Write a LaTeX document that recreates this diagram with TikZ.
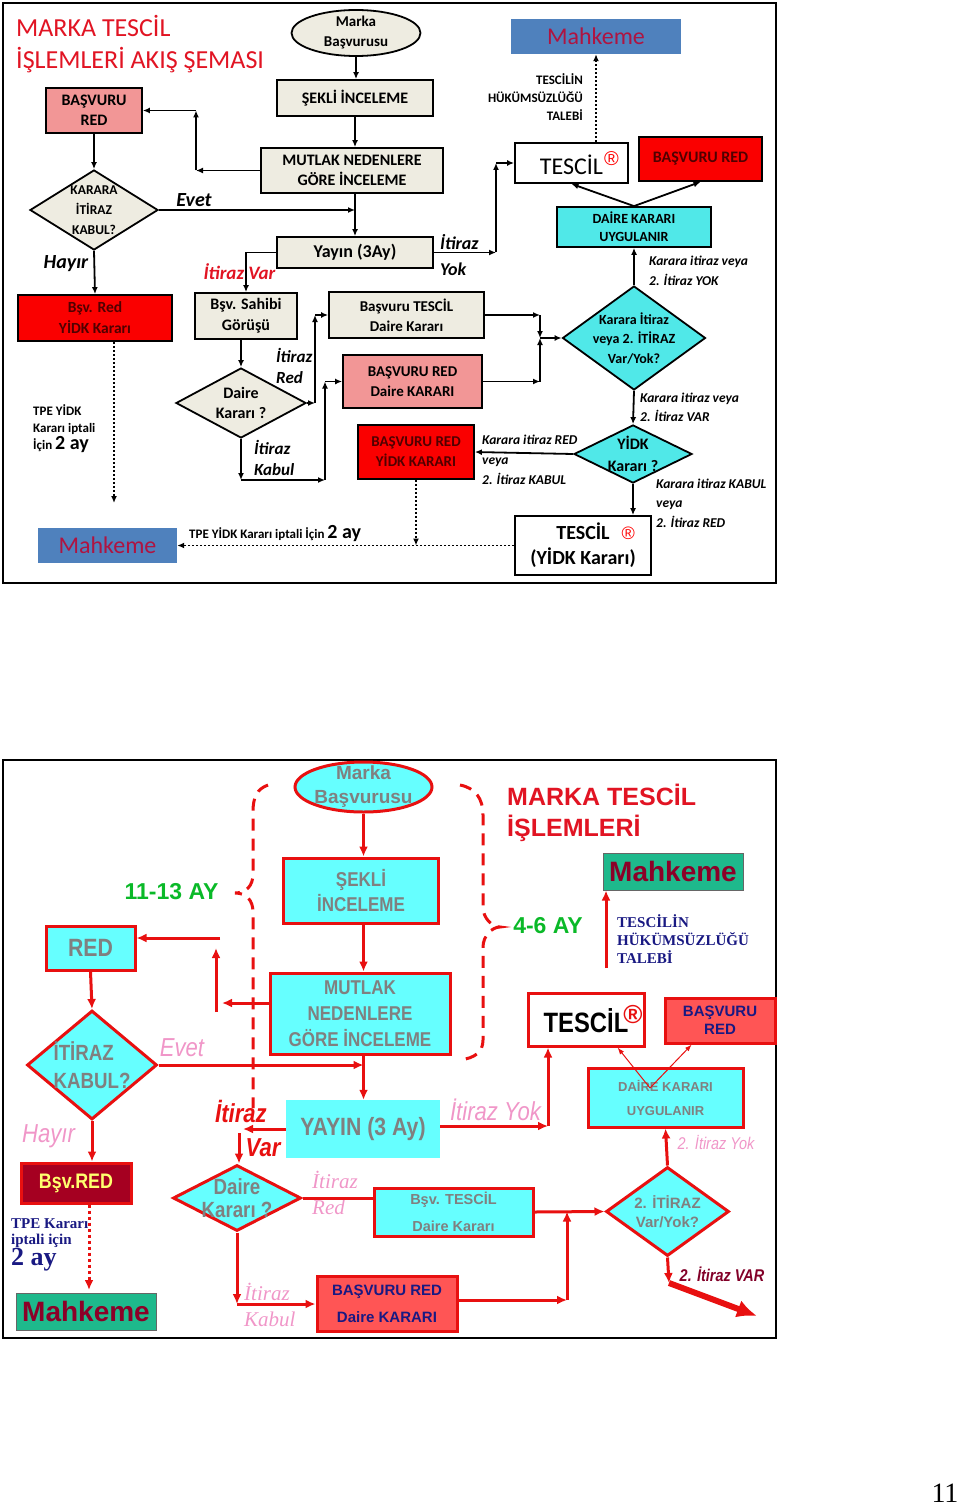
\documentclass[tikz,border=0pt]{standalone}
\usepackage{fontspec}
\setmainfont{Carlito}
\newfontfamily\arialf{Liberation Sans}
\newfontfamily\narrowf[FakeStretch=0.85]{Liberation Sans}
\newfontfamily\timesf{Liberation Serif}
\usetikzlibrary{shapes.geometric,arrows.meta,calc}

\definecolor{beige}{RGB}{238,236,225}
\definecolor{pinkbox}{RGB}{242,150,150}
\definecolor{redbox}{RGB}{250,0,0}
\definecolor{redboxtext}{RGB}{80,0,0}
\definecolor{titlered}{RGB}{225,20,35}
\definecolor{mahblue}{RGB}{79,129,189}
\definecolor{mahtext}{RGB}{175,20,65}
\definecolor{cyantop}{RGB}{80,232,232}
\definecolor{cyanbot}{RGB}{102,255,255}
\definecolor{redline}{RGB}{232,16,16}
\definecolor{graytext}{RGB}{128,128,128}
\definecolor{pinktext}{RGB}{240,150,200}
\definecolor{greentext}{RGB}{10,185,40}
\definecolor{navytext}{RGB}{25,25,130}
\definecolor{mahgreen}{RGB}{30,185,140}
\definecolor{maroontext}{RGB}{140,0,40}
\definecolor{bsvdark}{RGB}{165,0,33}
\definecolor{yellowtext}{RGB}{255,255,110}
\definecolor{salmon}{RGB}{255,85,85}
\definecolor{wine}{RGB}{130,0,40}

\newcommand\fsz[2]{\fontsize{#1}{#2}\selectfont}

\tikzset{
  every node/.style={inner sep=0pt,align=center},
  sz/.style 2 args={minimum width=#1pt,minimum height=#2pt},
  % top chart
  tbox/.style={draw=black,line width=1.8pt,fill=beige,font=\bfseries},
  tredbox/.style={tbox,fill=redbox,text=redboxtext},
  tell/.style={ellipse,draw=black,line width=1.8pt,fill=beige},
  tdia/.style={diamond,draw=black,line width=1.8pt,fill=beige},
  tmah/.style={fill=mahblue,text=mahtext,font=\fsz{24}{24}},
  tarr/.style={draw=black,line width=1.8pt,-{Latex[length=7pt,width=6pt]}},
  tdot/.style={tarr,dash pattern=on 2pt off 2pt},
  tlab/.style={font=\bfseries\itshape},
  % bottom chart
  bbox/.style={draw=redline,line width=3pt,fill=cyanbot,text=graytext},
  bell/.style={ellipse,draw=redline,line width=3pt,fill=cyanbot},
  bdia/.style={diamond,draw=redline,line width=3pt,fill=cyanbot},
  bmah/.style={draw=black!60,line width=1pt,fill=mahgreen,text=maroontext,font=\arialf\bfseries\fsz{28}{28}},
  barr/.style={draw=redline,line width=3pt,-{Latex[length=10pt,width=9pt]}},
  bline/.style={draw=redline,line width=3pt},
  bthin/.style={draw=redline,line width=1pt,-{Latex[length=7pt,width=5pt]}},
  bthick/.style={draw=redline,line width=6pt,-{Latex[length=20pt,width=18pt]}},
  bdot/.style={barr,dash pattern=on 3pt off 3pt},
  bdash/.style={draw=redline,line width=3pt,dash pattern=on 12pt off 8pt},
  blab/.style={text=pinktext,font=\narrowf\itshape\fsz{26}{26}},
}

\begin{document}
\begin{tikzpicture}[x=1pt,y=-1pt]
\useasboundingbox (0,0) rectangle (960,1506);

% ---------------- top chart ----------------
\draw[line width=2pt] (3,3) rectangle (776,583);

\node[anchor=west,align=left,text=titlered,font=\fsz{26}{32}] (title) at (16,44) {MARKA TESCİL\\İŞLEMLERİ AKIŞ ŞEMASI};

\node[tell,sz={129}{46},label={[font=\bfseries\fsz{15}{20}]center:{Marka\\Başvurusu}}] (marka) at (356,33) {};
\node[tbox,sz={156}{36},font=\bfseries\fsz{16}{20}] (sekli) at (355,98) {ŞEKLİ İNCELEME};
\node[tbox,sz={182}{45},font=\bfseries\fsz{16}{20}] (mutlak) at (352,170.5) {MUTLAK NEDENLERE\\GÖRE İNCELEME};
\node[tbox,sz={156}{31},font=\bfseries\fsz{18}{20}] (yayin) at (355,252.5) {Yayın (3Ay)};
\node[tbox,fill=pinkbox,sz={96}{45},font=\bfseries\fsz{16}{20}] (basred) at (94,110.5) {BAŞVURU\\RED};
\node[tdia,sz={128}{80},label={[font=\bfseries\fsz{13.5}{20}]center:{KARARA\\İTİRAZ\\KABUL?}}] (kabul) at (94,210) {};
\node[tredbox,sz={154}{46},font=\bfseries\fsz{15.5}{21}] (bsvred) at (95,318) {Bşv. Red\\YİDK Kararı};
\node[tmah,sz={139}{35}] (mahk1) at (107.5,545.5) {Mahkeme};
\node[tbox,sz={102}{46},font=\bfseries\fsz{16}{21}] (sahibi) at (246,316) {Bşv. Sahibi\\Görüşü};
\node[tdia,sz={130}{70},label={[font=\bfseries\fsz{16}{20}]center:{Daire\\Kararı ?}}] (daire) at (241,403) {};
\node[tbox,sz={155}{46},font=\bfseries\fsz{15}{20}] (tescilda) at (406.5,315) {Başvuru TESCİL\\Daire Kararı};
\node[tbox,fill=pinkbox,sz={139}{53},font=\bfseries\fsz{15}{20}] (redda) at (412.5,381.5) {BAŞVURU RED\\Daire KARARI};
\node[tredbox,sz={116}{54},font=\bfseries\fsz{15}{20}] (redyidk) at (416,452) {BAŞVURU RED\\YİDK KARARI};
\node[tdia,fill=cyantop,sz={143}{104},label={[font=\bfseries\fsz{14}{19.5}]center:{Karara İtiraz\\veya 2. İTİRAZ\\Var/Yok?}}] (itdia) at (634,338) {};
\node[tbox,fill=cyantop,sz={154}{40},font=\bfseries\fsz{14}{18}] (daireuyg) at (634,227) {DAİRE KARARI\\UYGULANIR};
\node[tbox,fill=white,sz={113}{40},font=\mdseries\fsz{24}{24}] (tescil) at (571.5,163) {TESCİL\rlap{\hspace{1pt}\raisebox{9pt}{\color{red}\arialf\fsz{20}{20}®}}};
\node[tredbox,sz={123}{44},font=\bfseries\fsz{16}{20}] (basredtop) at (700.5,159) {BAŞVURU RED};
\node[tmah,sz={170}{35}] (mahk2) at (596,36.5) {Mahkeme};
\node[anchor=east,align=right,font=\bfseries\fsz{13}{18}] (hukum) at (583,97) {TESCİLİN\\HÜKÜMSÜZLÜĞÜ\\TALEBİ};
\node[tdia,fill=cyantop,sz={118}{58},label={[font=\bfseries\fsz{16}{22}]center:{YİDK\\Kararı ?}}] (yidk) at (633,454) {};
\node[tbox,fill=white,sz={136}{59},font=\bfseries\fsz{20}{25}] (tescilyidk) at (583,545.5) {TESCİL\rlap{\hspace{12pt}{\color{red}\arialf\mdseries\fsz{18}{18}®}}\\(YİDK Kararı)};

% labels
\node[tlab,font=\bfseries\itshape\fsz{20}{20}] (evet) at (194,200) {Evet};
\node[tlab,font=\bfseries\itshape\fsz{20}{20}] (hayir) at (66,264) {Hayır};
\node[tlab,text=titlered,font=\bfseries\itshape\fsz{19}{19}] (itvar) at (239.5,272) {İtiraz Var};
\node[tlab,anchor=west,align=left,font=\bfseries\itshape\fsz{18}{26}] (ityok) at (440,255) {İtiraz\\Yok};
\node[tlab,anchor=west,align=left,font=\bfseries\itshape\fsz{17}{21}] (itred) at (276,366) {İtiraz\\Red};
\node[tlab,anchor=west,align=left,font=\bfseries\itshape\fsz{17}{21}] (itkabul) at (254,458) {İtiraz\\Kabul};
\node[anchor=west,align=left,font=\bfseries\fsz{13}{17}] (tpe1) at (33,429) {TPE YİDK\\Kararı iptali\\İçin {\fsz{20}{20}2 ay}};
\node[anchor=west,font=\bfseries\fsz{13}{17}] (tpe2) at (189,534) {TPE YİDK Kararı iptali İçin {\fsz{20}{20}2 ay}};
\node[tlab,anchor=west,align=left,font=\bfseries\itshape\fsz{13.5}{20}] (kyok) at (649,271) {Karara itiraz veya\\2. İtiraz YOK};
\node[tlab,anchor=west,align=left,font=\bfseries\itshape\fsz{13.5}{19}] (kvar) at (640,407.5) {Karara itiraz veya\\2. İtiraz VAR};
\node[tlab,anchor=west,align=left,font=\bfseries\itshape\fsz{13.5}{20}] (kred) at (482,460) {Karara itiraz RED\\veya\\2. İtiraz KABUL};
\node[tlab,anchor=west,align=left,font=\bfseries\itshape\fsz{13.5}{19.5}] (kkabul) at (656,503) {Karara itiraz KABUL\\veya\\2. İtiraz RED};

% connectors
\coordinate (m1) at (196,170.5);
\coordinate (m2) at (196,110.5);
\coordinate (y1) at (496,252.5);
\coordinate (y2) at (496,163);
\coordinate (d1) at (315,403);
\coordinate (d2) at (315,315);
\coordinate (d3) at (241,480);
\coordinate (d4) at (325,480);
\coordinate (d5) at (325,381.5);
\coordinate (j1) at (540,315);
\coordinate (j2) at (540,381.5);
\coordinate (j3) at (540,338);
\coordinate (r2) at (114,503);

\draw[tarr] (marka.south) -- (marka.south |- sekli.north);
\draw[tarr] (sekli.south) -- (sekli.south |- mutlak.north);
\draw[tarr] (yayin.north |- mutlak.south) -- (yayin.north);
\draw[tarr] (mutlak.west) -- (m1);
\draw[tarr] (m1) -- (m2);
\draw[tarr] (m2) -- (basred.east);
\draw[tarr] (basred.south) -- (kabul.north);
\draw[tarr] (kabul.east) -- (kabul.east -| yayin.north);
\draw[tarr] (kabul.south) -- (bsvred.north);
\draw[tarr] (yayin.west) -| (sahibi.north);
\draw[tarr] (yayin.east) -- (y1);
\draw[tarr] (y1) -- (y2);
\draw[tarr] (y2) -- (tescil.west);
\draw[tarr] (daire.north |- sahibi.south) -- (daire.north);
\draw[tarr] (daire.east) -- (d1);
\draw[tarr] (d1) -- (d2);
\draw[tarr] (d2) -- (tescilda.west);
\draw[tarr] (daire.south) -- (d3);
\draw[tarr] (d3) -- (d4);
\draw[tarr] (d4) -- (d5);
\draw[tarr] (d5) -- (redda.west);
\draw[tarr] (tescilda.east) -- (j1);
\draw[tarr] (redda.east) -- (j2);
\draw[tarr] (j1) -- (j3);
\draw[tarr] (j2) -- (j3);
\draw[tarr] (j3) -- (itdia.west);
\draw[tarr] (itdia.north) -- (daireuyg.south);
\draw[tarr] (daireuyg.north) -- (tescil.south);
\draw[tarr] (daireuyg.north) -- (basredtop.south);
\draw[tdot] (tescil.north -| mahk2.south) -- (mahk2.south);
\draw[tarr] (itdia.south) -- (yidk.north);
\draw[tarr] (yidk.west) -- (redyidk.east);
\draw[tarr] (yidk.south) -- (yidk.south |- tescilyidk.north);
\draw[tdot] (tescilyidk.west) -- (mahk1.east);
\draw[tdot] (redyidk.south) -- (redyidk.south |- mahk1.east);
\draw[tdot] (r2 |- bsvred.south) -- (r2);

% ---------------- bottom chart ----------------
\draw[line width=2pt] (3,760) rectangle (776,1338);

\draw[bdash] (268,785) .. controls (257,789) and (253,797) .. (253,812) -- (253,874) .. controls (253,886) and (246,893) .. (235,893) .. controls (246,893) and (253,900) .. (253,912) -- (253,1108);
\draw[bdash] (460,785) .. controls (475,788) and (483,798) .. (483,815) -- (483,907) .. controls (483,918) and (492,927) .. (500,927) .. controls (492,927) and (483,936) .. (483,947) -- (483,1040) .. controls (483,1052) and (475,1058) .. (460,1060);

\node[anchor=west,align=left,text=titlered,font=\arialf\bfseries\fsz{25}{31}] (title2) at (507,813) {MARKA TESCİL\\İŞLEMLERİ};
\node[bell,sz={137}{50},label={[text=graytext,font=\arialf\bfseries\fsz{19}{24}]center:{Marka\\Başvurusu}}] (marka2) at (363.5,787) {};
\node[bbox,sz={155}{65},font=\narrowf\bfseries\fsz{20}{25}] (sekli2) at (361,890.5) {ŞEKLİ\\İNCELEME};
\node[bbox,sz={180}{81},font=\narrowf\bfseries\fsz{20}{26}] (mutlak2) at (360,1013.5) {MUTLAK\\NEDENLERE\\GÖRE İNCELEME};
\node[bbox,sz={89}{44},font=\narrowf\bfseries\fsz{25}{25}] (red2) at (90.5,948) {RED};
\node[bdia,sz={130}{109},label={[text=graytext,align=left,font=\narrowf\bfseries\fsz{22}{28}]center:{İTİRAZ\\KABUL?}}] (kabul2) at (92,1065) {};
\node[bbox,fill=bsvdark,text=yellowtext,sz={110}{40},font=\narrowf\bfseries\fsz{21}{21}] (bsvred2) at (76,1183) {Bşv.RED};
\node[bmah,sz={140}{37}] (mahk3) at (86,1311.5) {Mahkeme};
\node[fill=cyanbot,text=graytext,sz={154}{58},font=\narrowf\bfseries\fsz{25}{25}] (yayin2) at (363,1129) {YAYIN (3 Ay)};
\node[bdia,sz={128}{66},label={[text=graytext,font=\narrowf\bfseries\fsz{22}{23}]center:{Daire\\Kararı ?}}] (daire2) at (237,1198) {};
\node[bbox,sz={159}{48},font=\arialf\bfseries\fsz{14.5}{27}] (tescilda2) at (453.5,1212) {Bşv. TESCİL\\Daire Kararı};
\node[bbox,fill=salmon,text=navytext,sz={140}{55},font=\arialf\bfseries\fsz{15}{27}] (redda2) at (387,1304) {BAŞVURU RED\\Daire KARARI};
\node[bdia,sz={123}{89},label={[text=graytext,font=\arialf\bfseries\fsz{15}{19}]center:{2. İTİRAZ\\Var/Yok?}}] (itdia2) at (667.5,1211.5) {};
\node[bbox,sz={155}{59},font=\arialf\bfseries\fsz{13}{24}] (daireuyg2) at (665.5,1097.5) {DAİRE KARARI\\UYGULANIR};
\node[bbox,fill=white,text=black,sz={116}{53},font=\narrowf\bfseries\fsz{28}{28}] (tescil2) at (586,1019.5) {TESCİL\rlap{\hspace{-5pt}\raisebox{9pt}{\color{redline}\arialf\fsz{26}{26}®}}};
\node[bbox,fill=salmon,text=navytext,sz={110}{45},font=\arialf\bfseries\fsz{15}{18}] (basred2) at (720,1020.5) {BAŞVURU\\RED};
\node[bmah,sz={140}{37}] (mahk4) at (673,871.5) {Mahkeme};
\node[anchor=west,align=left,text=navytext,font=\timesf\bfseries\fsz{15}{18}] (hukum2) at (617,939) {TESCİLİN\\HÜKÜMSÜZLÜĞÜ\\TALEBİ};
\node[text=greentext,font=\arialf\bfseries\fsz{23}{23}] (ay1) at (171.5,892) {11-13 AY};
\node[text=greentext,font=\arialf\bfseries\fsz{23}{23}] (ay2) at (548,926) {4-6 AY};

% labels
\node[blab] (evet2) at (182,1048) {Evet};
\node[blab] (hayir2) at (48.5,1136) {Hayır};
\node[text=redline,font=\narrowf\bfseries\itshape\fsz{26}{26}] (itir2) at (241,1111) {İtiraz};
\node[text=redline,font=\narrowf\bfseries\itshape\fsz{26}{26}] (var2) at (263,1148) {Var};
\node[anchor=west,align=left,text=pinktext,font=\timesf\itshape\fsz{21}{26}] (itred2) at (312,1193) {İtiraz\\Red};
\node[anchor=west,align=left,text=pinktext,font=\timesf\itshape\fsz{21}{26}] (itkabul2) at (244,1305) {İtiraz\\Kabul};
\node[blab] (ityok2) at (495.5,1110) {İtiraz Yok};
\node[text=pinktext,font=\narrowf\itshape\fsz{17}{17}] (yok2) at (716,1143) {2. İtiraz Yok};
\node[text=wine,font=\narrowf\bfseries\itshape\fsz{17}{17}] (var3) at (722,1274) {2. İtiraz VAR};
\node[anchor=west,align=left,text=navytext,font=\timesf\bfseries\fsz{15}{16}] (tpe3) at (11,1245) {TPE Kararı\\iptali için\\{\fsz{26}{24}2 ay}};

% connectors
\coordinate (n1) at (222,1003);
\coordinate (n2) at (216,1012);
\coordinate (n3) at (216,948);
\coordinate (n4) at (220,938);
\coordinate (p1) at (89,1290);
\coordinate (v1) at (243,1129);
\coordinate (v2) at (239,1133);
\coordinate (k1) at (567,1300);
\coordinate (u0) at (650,1088);
\coordinate (x1) at (669,1283);
\coordinate (x2) at (757,1316);
\coordinate (z1) at (548,1126);
\coordinate (h1) at (606,968);

\draw[barr] (marka2.south) -- (marka2.south |- sekli2.north);
\draw[barr] (sekli2.south -| marka2.south) -- (mutlak2.north -| marka2.south);
\draw[barr] (mutlak2.west |- n1) -- (n1);
\draw[barr] (n2) -- (n3);
\draw[barr] (n4) -- (n4 -| red2.east);
\draw[barr] (red2.south) -- (kabul2.north);
\draw[barr] (kabul2.east) -- (kabul2.east -| marka2.south);
\draw[barr] (kabul2.south) -- (kabul2.south |- bsvred2.north);
\draw[bdot] (p1 |- bsvred2.south) -- (p1);
\draw[barr] (mutlak2.south -| marka2.south) -- (yayin2.north -| marka2.south);
\draw[barr] (yayin2.west) -- (v1);
\draw[barr] (v2) -- (v2 |- daire2.north);
\draw[bline] (daire2.east) -- (daire2.east -| tescilda2.west);
\draw[barr] (daire2.south) -- (daire2.south |- redda2.west);
\draw[barr] (daire2.south |- redda2.west) -- (redda2.west);
\draw[barr] (tescilda2.east) -- (itdia2.west);
\draw[barr] (redda2.east |- k1) -- (k1);
\draw[barr] (k1) -- (k1 |- itdia2.west);
\draw[barr] (itdia2.north) -- (daireuyg2.south);
\draw[bthin] (u0) -- ($(tescil2.south)!0.53!(tescil2.south east)$);
\draw[bthin] (u0) -- ($(basred2.south west)!0.5!(basred2.south)$);
\draw[barr] (itdia2.south) -- (x1);
\draw[bthick] (x1) -- (x2);
\draw[barr] (yayin2.east |- z1) -- (z1);
\draw[barr] (z1) -- (z1 |- tescil2.south);
\draw[barr] (h1) -- (h1 |- mahk4.south);

\node[font=\timesf\fsz{28}{28}] (page) at (945,1493) {11};
\end{tikzpicture}
\end{document}
